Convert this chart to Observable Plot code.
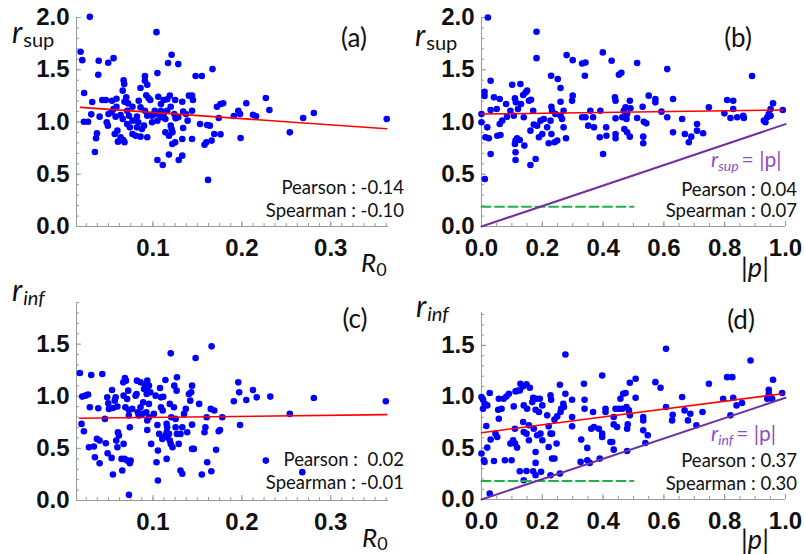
<!DOCTYPE html>
<html><head><meta charset="utf-8">
<script src="https://cdn.jsdelivr.net/npm/d3@7"></script>
<script src="https://cdn.jsdelivr.net/npm/@observablehq/plot@0.6"></script>
<style>
body{margin:0;background:#fff;}
#wrap{position:relative;width:804px;height:554px;overflow:hidden;background:#fff;}
</style></head><body><div id="wrap"></div>
<script>
// ---------- data ----------
const pointsA = [[0.029,2.006],[0.0186,1.672],[0.0205,1.592],[0.039,1.586],[0.0497,1.567],[0.0557,1.611],[0.0385,1.452],[0.104,1.86],[0.105,1.468],[0.117,1.564],[0.121,1.643],[0.1285,1.554],[0.148,1.44],[0.155,1.44],[0.167,1.506],[0.091,1.44],[0.091,1.395],[0.0936,1.357],[0.067,1.40],[0.0677,1.363],[0.066,1.30],[0.086,1.325],[0.0226,1.277],[0.0317,1.191],[0.043,1.21],[0.047,1.21],[0.054,1.204],[0.059,1.223],[0.059,1.146],[0.070,1.236],[0.068,1.194],[0.072,1.178],[0.084,1.204],[0.0925,1.255],[0.095,1.229],[0.097,1.21],[0.106,1.242],[0.109,1.172],[0.112,1.21],[0.119,1.252],[0.116,1.217],[0.12,1.146],[0.125,1.21],[0.133,1.194],[0.1405,1.252],[0.144,1.252],[0.145,1.21],[0.172,1.146],[0.176,1.172],[0.179,1.18],[0.196,1.108],[0.205,1.18],[0.227,1.229],[0.231,1.115],[0.2126,1.07],[0.216,1.054],[0.191,1.057],[0.198,1.076],[0.174,1.038],[0.176,0.882],[0.1986,0.847],[0.254,0.901],[0.269,1.038],[0.281,1.086],[0.363,1.029],[0.0223,1.003],[0.027,1.003],[0.0306,1.073],[0.040,1.051],[0.037,0.892],[0.036,0.844],[0.0347,0.713],[0.048,0.997],[0.0493,0.965],[0.050,1.076],[0.0534,1.092],[0.058,1.051],[0.0557,1.124],[0.057,0.885],[0.060,0.917],[0.0606,0.812],[0.0636,0.854],[0.0666,0.828],[0.068,0.806],[0.0636,1.067],[0.066,1.029],[0.071,1.108],[0.073,1.06],[0.071,0.981],[0.074,0.949],[0.077,1.013],[0.077,0.885],[0.0805,0.869],[0.082,1.051],[0.0835,0.997],[0.082,0.949],[0.086,0.86],[0.0876,0.933],[0.09,0.965],[0.0936,1.06],[0.091,1.108],[0.099,1.06],[0.099,0.997],[0.0936,0.854],[0.102,1.108],[0.105,1.076],[0.109,1.108],[0.112,1.076],[0.105,1.013],[0.11,1.045],[0.114,1.029],[0.114,0.901],[0.118,0.869],[0.122,0.901],[0.12,0.965],[0.121,0.933],[0.1218,0.79],[0.125,0.806],[0.118,0.688],[0.105,0.637],[0.111,0.589],[0.129,0.637],[0.133,0.678],[0.1255,1.035],[0.1285,1.045],[0.134,1.099],[0.137,1.076],[0.139,1.013],[0.134,0.943],[0.133,0.838],[0.144,1.108],[0.144,0.838],[0.153,0.981],[0.161,0.971],[0.164,0.965],[0.169,0.885],[0.166,0.822],[0.158,0.783],[0.16,0.806],[0.162,0.446],[0.124,1.076],[0.116,1.108],[0.086,1.14],[0.077,1.146]];

const pointsB = [[0.021,2.0],[0.181,1.863],[0.181,1.611],[0.28,1.64],[0.30,1.592],[0.331,1.56],[0.342,1.57],[0.34,1.443],[0.399,1.666],[0.428,1.586],[0.452,1.452],[0.46,1.471],[0.512,1.564],[0.611,1.506],[0.89,1.44],[0.03,1.395],[0.01,1.29],[0.01,1.25],[0.041,1.236],[0.06,1.22],[0.05,1.124],[0.03,1.115],[0.0,1.076],[0.0,0.997],[0.019,0.949],[0.013,0.854],[0.024,0.844],[0.011,0.455],[0.03,0.694],[0.06,0.981],[0.068,1.013],[0.052,0.869],[0.0625,0.876],[0.081,1.172],[0.084,1.051],[0.101,1.357],[0.11,1.226],[0.113,1.188],[0.12,1.124],[0.128,1.363],[0.13,1.172],[0.137,1.258],[0.145,1.283],[0.15,1.3],[0.156,1.204],[0.163,1.213],[0.17,1.108],[0.106,1.06],[0.095,1.108],[0.139,1.045],[0.112,0.822],[0.117,0.844],[0.126,0.828],[0.141,0.774],[0.11,0.79],[0.112,0.71],[0.112,0.637],[0.161,0.917],[0.172,0.975],[0.183,0.965],[0.194,1.013],[0.205,1.029],[0.189,0.854],[0.2,0.885],[0.178,0.646],[0.161,0.589],[0.216,0.949],[0.221,0.796],[0.23,0.885],[0.24,0.806],[0.249,0.822],[0.229,1.443],[0.251,1.411],[0.26,1.325],[0.26,1.194],[0.23,1.146],[0.232,1.108],[0.243,1.076],[0.26,1.06],[0.27,1.108],[0.265,1.029],[0.27,0.949],[0.278,0.844],[0.30,1.252],[0.298,1.204],[0.227,1.013],[0.331,1.045],[0.342,1.045],[0.358,1.108],[0.351,0.965],[0.37,0.949],[0.367,1.045],[0.389,0.854],[0.4,0.694],[0.41,0.949],[0.411,0.869],[0.391,1.108],[0.439,1.236],[0.441,1.204],[0.441,1.035],[0.441,0.885],[0.441,0.844],[0.463,1.045],[0.468,1.108],[0.474,1.14],[0.479,1.076],[0.488,1.204],[0.477,1.029],[0.47,0.933],[0.479,0.901],[0.488,0.86],[0.49,1.131],[0.512,1.038],[0.53,1.146],[0.534,1.003],[0.542,0.987],[0.532,0.86],[0.532,0.796],[0.55,1.252],[0.572,1.22],[0.572,1.188],[0.592,1.099],[0.611,1.045],[0.63,1.22],[0.63,0.901],[0.66,1.029],[0.669,0.885],[0.682,0.806],[0.69,0.86],[0.709,0.981],[0.709,0.917],[0.729,0.892],[0.748,1.14],[0.799,1.083],[0.808,1.21],[0.828,1.204],[0.828,1.124],[0.819,1.038],[0.841,1.045],[0.861,1.06],[0.863,1.038],[0.929,1.013],[0.94,1.045],[0.945,1.076],[0.951,1.124],[0.959,1.18],[0.951,1.06],[0.991,1.115],[0.934,0.997]];

const pointsC = [[0.0178,1.224],[0.0306,1.204],[0.043,1.214],[0.0205,0.997],[0.024,1.006],[0.027,1.016],[0.029,0.895],[0.0385,0.885],[0.0197,0.735],[0.0223,0.665],[0.028,0.511],[0.0336,0.518],[0.037,0.591],[0.040,0.575],[0.0347,0.415],[0.040,0.358],[0.046,0.783],[0.047,0.55],[0.049,0.454],[0.0535,0.409],[0.055,0.249],[0.0486,0.99],[0.0497,0.933],[0.054,1.061],[0.057,0.958],[0.058,0.99],[0.0505,0.879],[0.055,0.888],[0.06,0.901],[0.0606,0.655],[0.0587,0.575],[0.0617,0.623],[0.06,0.511],[0.0647,0.399],[0.0655,0.288],[0.067,1.006],[0.0685,1.176],[0.0696,1.15],[0.0666,1.134],[0.0722,1.054],[0.069,0.895],[0.071,0.974],[0.0729,0.815],[0.074,0.703],[0.067,0.543],[0.068,0.399],[0.071,0.383],[0.0749,0.383],[0.074,0.358],[0.073,0.054],[0.073,0.869],[0.0767,0.879],[0.0805,1.006],[0.0816,1.022],[0.082,1.15],[0.0861,1.134],[0.083,0.847],[0.086,0.895],[0.084,0.815],[0.088,0.831],[0.089,0.942],[0.09,1.07],[0.091,1.109],[0.0936,1.15],[0.0955,1.102],[0.0925,1.061],[0.093,1.022],[0.0955,0.927],[0.0925,0.847],[0.0936,0.767],[0.0936,0.677],[0.0955,0.799],[0.097,1.038],[0.098,0.543],[0.101,0.831],[0.103,1.006],[0.105,0.725],[0.1056,0.479],[0.104,0.367],[0.1056,0.192],[0.107,0.639],[0.108,1.08],[0.109,0.99],[0.109,0.895],[0.111,0.863],[0.1116,0.995],[0.1105,0.591],[0.114,1.157],[0.1154,0.735],[0.116,0.703],[0.1154,0.655],[0.116,0.607],[0.114,0.623],[0.1154,0.399],[0.119,0.927],[0.12,1.412],[0.118,0.639],[0.119,0.575],[0.12,0.543],[0.122,0.511],[0.1206,0.799],[0.1236,0.895],[0.124,1.102],[0.1266,1.054],[0.127,1.182],[0.1255,0.783],[0.1255,0.703],[0.127,0.639],[0.129,0.543],[0.131,0.288],[0.133,0.256],[0.131,0.639],[0.133,0.703],[0.135,0.831],[0.137,0.879],[0.1386,0.655],[0.1405,1.022],[0.142,0.958],[0.144,1.102],[0.143,1.038],[0.144,0.728],[0.144,0.495],[0.146,0.495],[0.148,1.367],[0.152,0.927],[0.158,0.655],[0.159,0.703],[0.1604,0.799],[0.161,0.367],[0.155,0.249],[0.165,0.879],[0.166,1.479],[0.169,0.863],[0.1657,0.281],[0.171,0.486],[0.174,0.665],[0.1754,0.677],[0.178,0.799],[0.191,0.952],[0.196,1.134],[0.197,1.038],[0.198,0.725],[0.205,0.965],[0.2126,1.061],[0.2167,0.99],[0.227,0.383],[0.232,0.997],[0.254,0.831],[0.268,0.272],[0.281,0.984],[0.362,0.952]];

const pointsD = [[0,0.997],[0.005,0.971],[0.011,0.932],[0.019,0.916],[0.005,0.883],[0.016,0.715],[0.027,1.036],[0.03,0.583],[0.019,0.505],[0,0.447],[0.008,0.382],[0.01,0.366],[0.041,0.375],[0.027,0.058],[0.057,0.981],[0.055,0.874],[0.066,0.883],[0.046,0.641],[0.052,0.608],[0.057,0.786],[0.073,0.981],[0.082,1.003],[0.09,1.029],[0.077,0.382],[0.099,0.382],[0.106,0.906],[0.11,0.689],[0.104,0.576],[0.11,0.544],[0.117,0.505],[0.095,0.544],[0.112,1.052],[0.12,1.061],[0.128,1.126],[0.136,1.1],[0.148,1.12],[0.159,1.087],[0.126,1.061],[0.139,0.916],[0.15,0.883],[0.139,0.657],[0.148,0.641],[0.137,0.754],[0.156,0.722],[0.156,0.576],[0.126,0.275],[0.148,0.278],[0.139,0.188],[0.17,0.99],[0.167,0.948],[0.178,0.874],[0.189,0.851],[0.181,0.981],[0.192,0.981],[0.172,0.689],[0.183,0.625],[0.178,0.463],[0.178,0.356],[0.17,0.275],[0.178,0.236],[0.196,0.269],[0.2,0.916],[0.2,0.576],[0.194,0.641],[0.216,0.819],[0.221,0.712],[0.227,1.013],[0.229,0.971],[0.227,0.641],[0.232,0.641],[0.221,0.511],[0.232,0.398],[0.24,0.398],[0.247,0.544],[0.227,0.236],[0.258,0.252],[0.24,0.777],[0.249,0.809],[0.262,0.883],[0.269,0.932],[0.258,1.117],[0.276,1.411],[0.276,1.029],[0.271,0.9],[0.26,0.851],[0.298,0.971],[0.298,0.803],[0.298,0.712],[0.328,0.583],[0.326,0.366],[0.337,1.126],[0.339,0.971],[0.339,0.883],[0.348,0.502],[0.348,0.382],[0.356,0.356],[0.361,0.689],[0.37,0.706],[0.367,0.851],[0.386,0.689],[0.389,0.398],[0.397,1.207],[0.397,0.641],[0.397,0.608],[0.408,0.883],[0.408,0.851],[0.424,0.56],[0.43,0.56],[0.435,0.485],[0.435,0.803],[0.435,0.731],[0.441,0.883],[0.452,0.883],[0.446,0.706],[0.457,0.981],[0.466,1.029],[0.463,0.883],[0.474,1.036],[0.477,0.9],[0.481,0.731],[0.479,0.689],[0.479,0.472],[0.485,0.867],[0.488,1.136],[0.488,0.819],[0.507,1.175],[0.507,0.99],[0.532,0.803],[0.532,0.77],[0.532,0.673],[0.539,0.55],[0.547,0.625],[0.572,1.142],[0.589,1.087],[0.607,1.466],[0.607,0.9],[0.629,0.825],[0.627,0.77],[0.66,0.997],[0.668,0.867],[0.679,0.77],[0.687,0.835],[0.707,0.722],[0.727,0.851],[0.748,1.126],[0.795,0.981],[0.808,1.191],[0.825,1.191],[0.819,0.819],[0.828,0.99],[0.839,0.916],[0.857,0.939],[0.885,1.353],[0.94,0.981],[0.945,1.068],[0.945,1.029],[0.951,0.997],[0.956,0.981],[0.959,1.165],[0.989,1.036]];

// fitted lines (end points), identity lines and dashed reference levels
const fitA = [[0.0186,1.14],[0.363,0.936]];
const fitB = [[0,1.076],[0.991,1.115]];
const fitC = [[0.0175,0.789],[0.363,0.824]];
const fitD = [[0,0.65],[0.989,1.029]];
const identB = [[0,0],[1,0.98]];
const identD = [[0,0],[1,0.99]];
const dashB = [[0,0.19],[0.5,0.19]];
const dashD = [[0,0.18],[0.5,0.18]];

const pearson = ["-0.14","0.04","\u00a00.02","0.37"];
const spearman = ["-0.10","0.07","-0.01","0.30"];
const panelTags = ["(a)","(b)","(c)","(d)"];

const yMajorTop = [0,0.5,1.0,1.5,2.0];
const yMajorBot = [0,0.5,1.0,1.5];
const r0Major = [0.1,0.2,0.3];
const pMajor = [0,0.2,0.4,0.6,0.8,1.0];

// ---------- helpers ----------
const wrap = document.getElementById("wrap");
const AX = "#9a9a9a";
const TICKFONT = "'Liberation Sans', Arial, sans-serif";
const fmt = d3.format(".1f");
const X = d => d[0], Y = d => d[1];

function panel({left, top, width, height, mL, mR, mT, mB, xDom, yDom, xMajor, xMinorStep, yMajor, pts, fit, ident, dash}) {
  const xMinor = d3.range(Math.ceil(xDom[0]/xMinorStep)*xMinorStep, xDom[1]+1e-9, xMinorStep).filter(v => v > xDom[0]+1e-9);
  const yMinor = d3.range(0.1, yDom[1]+1e-9, 0.1);
  const marks = [
    Plot.ruleX([xDom[0]], {stroke: AX, strokeWidth: 1}),
    Plot.ruleY([0], {stroke: AX, strokeWidth: 1}),
    Plot.axisY(yMinor, {tickSize: -3, text: null, stroke: AX, label: null}),
    Plot.axisY(yMajor, {tickSize: -5, text: null, stroke: AX, label: null}),
    Plot.axisY(yMajor, {tickSize: 0, tickPadding: 7, tickFormat: fmt, label: null, fontSize: 24, fontWeight: "bold", fontFamily: TICKFONT, fill: "#111"}),
    Plot.axisX(xMinor, {tickSize: -3, text: null, stroke: AX, label: null}),
    Plot.axisX(xMajor, {tickSize: -5, text: null, stroke: AX, label: null}),
    Plot.axisX(xMajor, {tickSize: 0, tickPadding: 12, tickFormat: fmt, label: null, fontSize: 24, fontWeight: "bold", fontFamily: TICKFONT, fill: "#111"}),
    Plot.dot(pts, {x: X, y: Y, r: 3.3, fill: "#0000ff", stroke: "none"}),
  ];
  if (dash) marks.push(Plot.line(dash, {x: X, y: Y, stroke: "#22b04b", strokeWidth: 2, strokeDasharray: "9,4.5"}));
  if (ident) marks.push(Plot.line(ident, {x: X, y: Y, stroke: "#7030a0", strokeWidth: 2}));
  marks.push(Plot.line(fit, {x: X, y: Y, stroke: "#ff0000", strokeWidth: 1.6}));
  const svg = Plot.plot({
    width, height, marginLeft: mL, marginRight: mR, marginTop: mT, marginBottom: mB,
    x: {domain: xDom, nice: false},
    y: {domain: yDom, nice: false},
    style: {background: "transparent", overflow: "visible"},
    marks
  });
  svg.style.position = "absolute";
  svg.style.left = left + "px";
  svg.style.top = top + "px";
  wrap.appendChild(svg);
}

panel({left: 0, top: 0, width: 402, height: 280, mL: 76, mR: 14, mT: 17, mB: 54,
  xDom: [0.014, 0.365], yDom: [0, 2], xMajor: r0Major, xMinorStep: 0.0125, yMajor: yMajorTop, pts: pointsA, fit: fitA});
panel({left: 402, top: 0, width: 402, height: 280, mL: 79, mR: 19, mT: 17, mB: 54,
  xDom: [0, 1], yDom: [0, 2], xMajor: pMajor, xMinorStep: 0.05, yMajor: yMajorTop, pts: pointsB, fit: fitB, ident: identB, dash: dashB});
panel({left: 0, top: 277, width: 402, height: 277, mL: 76, mR: 14, mT: 25, mB: 54,
  xDom: [0.014, 0.365], yDom: [0, 1.9], xMajor: r0Major, xMinorStep: 0.0125, yMajor: yMajorBot, pts: pointsC, fit: fitC});
panel({left: 402, top: 277, width: 402, height: 277, mL: 79, mR: 19, mT: 35, mB: 55,
  xDom: [0, 1], yDom: [0, 1.82], xMajor: pMajor, xMinorStep: 0.05, yMajor: yMajorBot, pts: pointsD, fit: fitD, ident: identD, dash: dashD});

// ---------- text overlay ----------
const ov = d3.select(wrap).append("svg").attr("width", 804).attr("height", 554)
  .style("position", "absolute").style("left", 0).style("top", 0).style("overflow", "visible");
const FONT = "Lato, 'Open Sans', sans-serif";
function label(x, y, anchor, parts, color = "#111") {
  const t = ov.append("text").attr("x", x).attr("y", y).attr("text-anchor", anchor)
    .attr("fill", color).attr("font-family", FONT);
  for (const p of parts) {
    const s = t.append("tspan").attr("font-size", p.s).attr("font-style", p.i ? "italic" : "normal").text(p.t);
    if (p.dy) s.attr("dy", p.dy);
    if (p.dx) s.attr("dx", p.dx);
  }
}
// correlation texts
const corrPos = [[404, 194, 216.5], [797, 195.5, 216.5], [404, 465.5, 489], [797, 467, 490]];
corrPos.forEach(([x, y1, y2], i) => {
  label(x, y1, "end", [{t: "Pearson : " + pearson[i], s: 18.5}]);
  label(x, y2, "end", [{t: "Spearman : " + spearman[i], s: 18.5}]);
});
// panel tags
[[354, 47], [738, 47], [355, 328], [741, 329]].forEach(([x, y], i) => label(x, y, "middle", [{t: panelTags[i], s: 26}]));
// y-axis titles
label(12, 43, "start", [{t: "r", s: 30, i: true}, {t: "sup", s: 20, dy: 4, dx: 1}]);
label(415, 46, "start", [{t: "r", s: 30, i: true}, {t: "sup", s: 20, dy: 4, dx: 1}]);
label(12, 301, "start", [{t: "r", s: 30, i: true}, {t: "inf", s: 20, i: true, dy: 4, dx: 1}]);
label(416, 317, "start", [{t: "r", s: 30, i: true}, {t: "inf", s: 20, i: true, dy: 4, dx: 1}]);
// x-axis titles
label(361, 272, "start", [{t: "R", s: 26, i: true}, {t: "0", s: 18, dy: 4}]);
label(362, 547, "start", [{t: "R", s: 26, i: true}, {t: "0", s: 18, dy: 3}]);
label(755, 277, "middle", [{t: "|", s: 27}, {t: "p", s: 27, i: true}, {t: "|", s: 27}]);
label(755, 549, "middle", [{t: "|", s: 27}, {t: "p", s: 27, i: true}, {t: "|", s: 27}]);
// identity line labels
const PURP = "#8e4cc4";
label(711, 167, "start", [{t: "r", s: 21, i: true}, {t: "sup", s: 14, i: true, dy: 4}, {t: "= |p|", s: 21, dy: -4, dx: 3}], PURP);
label(711, 441, "start", [{t: "r", s: 21, i: true}, {t: "inf", s: 14, i: true, dy: 4}, {t: "= |p|", s: 21, dy: -4, dx: 3}], PURP);
</script></body></html>
